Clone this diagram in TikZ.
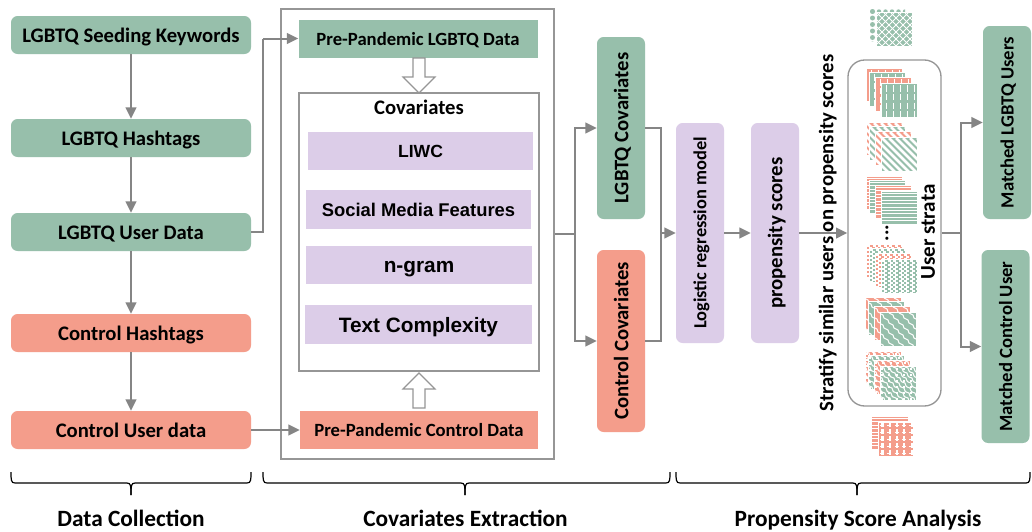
\documentclass[tikz,border=0pt]{standalone}
\usepackage{fontspec}
\setmainfont{Carlito}
\newfontfamily\arl{Liberation Sans}
\usetikzlibrary{arrows.meta}
\definecolor{grn}{HTML}{97BFAB}
\definecolor{sal}{HTML}{F49D8B}
\definecolor{lil}{HTML}{DCCDE8}
\definecolor{gl}{HTML}{858585}
\definecolor{frmc}{HTML}{969696}
\newcommand{\fsz}[1]{\fontsize{#1}{#1}\selectfont\bfseries}
\tikzset{x=0.75pt,y=-0.75pt,
 gbox/.style={rounded corners=5pt,fill=grn,inner sep=0pt,text depth=0pt,text height=10.6pt,font=\fsz{15.5}},
 sbox/.style={rounded corners=5pt,fill=sal,inner sep=0pt,text depth=0pt,text height=10.6pt,font=\fsz{15.5}},
 hw/.style={minimum width=240*.75pt,minimum height=38*.75pt},
 vw/.style={minimum width=48*.75pt,minimum height=182*.75pt},
 lbox/.style={fill=lil,inner sep=0pt,text depth=0pt},
 conn/.style={draw=gl,line width=1.5pt,-{Triangle[length=8.5pt,width=8pt]}},
 plain/.style={draw=gl,line width=1.5pt},
 frm/.style={draw=frmc,line width=1.1pt,fill=white,inner sep=0pt},
 brc/.style={draw=black,line width=0.9pt},
 lab/.style={font=\fsz{17.5},inner sep=0pt,text depth=0pt},
 vt/.style={rotate=90,inner sep=0pt,text depth=0pt},
 hol/.style={draw=frmc,fill=white,line width=0.9pt,line join=miter}
}
\newcommand{\patlat}{\foreach \i in {-42,-35,...,42}{\draw[white,line width=.55pt] (\i,0)--++(45,45);\draw[white,line width=.55pt] (\i,45)--++(45,-45);}}
\newcommand{\patvd}{\foreach \i in {4,11,...,39}{\draw[white,line width=.7pt,dash pattern=on 5pt off 1.6pt] (\i,1)--(\i,40);}}
\newcommand{\patdiag}{\foreach \i in {-42,-35,...,42}{\draw[white,line width=1.9pt] (\i,0)--++(45,45);}}
\newcommand{\pathor}{\foreach \i in {1.5,4.9,...,40}{\draw[white,line width=.75pt] (0,\i)--(40,\i);}}
\newcommand{\patbrick}{\foreach \i in {1,5,...,37}{\draw[white,line width=.9pt,dash pattern=on 2.2pt off 2pt] (0,\i)--(40,\i);\draw[white,line width=.9pt,dash pattern=on 2.2pt off 2pt] (2,\i+2)--(40,\i+2);}}
\newcommand{\patwave}{\foreach \i in {-42,-32,...,42}{\draw[white,line width=.75pt] (\i,0) foreach \k in {1,...,9}{ -- ++(4,2) -- ++(1,3)};}}
\newcommand{\patscale}{\foreach \i in {-42,-36,...,42}{\draw[white,line width=.8pt] (\i,0) foreach \k in {1,...,9}{ -- ++(3,1) -- ++(1,3) -- ++(1,1)};}\foreach \i in {2,8,...,38}{\draw[white,line width=.8pt,dash pattern=on 1.5pt off 4pt] (0,\i)--(40,\i);}}
\newcommand{\patchk}{\foreach \i in {3.5,10.8,...,38}{\draw[white,line width=1.6pt,dash pattern=on 3.6pt off 1.6pt] (\i,-1)--(\i,40);}\foreach \i in {2.5,9.5,...,38}{\draw[white,line width=1.4pt,dash pattern=on 3pt off 2.5pt] (1,\i)--(40,\i);}}
\newcommand{\patdots}{\foreach \i in {2.5,9,...,40}{\fill[grn] (2.5,\i) circle (2.5);\fill[grn] (\i,2.5) circle (2.2);}}
\newcommand{\tile}[6]{\begin{scope}[shift={(#1,#2)}]
 \fill[white] (-1,-1) rectangle (#3+1,#4+1);
 \begin{scope}\clip (0,0) rectangle (#3,#4);\fill[#5] (0,0) rectangle (#3,#4);\csname pat#6\endcsname\end{scope}
 \end{scope}}
\newcommand{\stk}[3]{%
 \tile{#1}{#2}{35}{32}{sal}{#3}%
 \tile{#1+3}{#2+4}{35}{33}{grn}{#3}%
 \tile{#1+9}{#2+9}{35}{33}{sal}{#3}%
 \tile{#1+15}{#2+15}{35}{33}{grn}{#3}}
\begin{document}
\begin{tikzpicture}
\useasboundingbox (0,0) rectangle (1032,532);
\fill[white] (0,0) rectangle (1032,532);
% column 1
\node[gbox,hw] (k) at (131,35) {LGBTQ Seeding Keywords};
\node[gbox,hw] (h) at (131,138) {LGBTQ Hashtags};
\node[gbox,hw] (u) at (131,232) {LGBTQ User Data};
\node[sbox,hw] (ch) at (131,333) {Control Hashtags};
\node[sbox,hw] (cu) at (131,430) {Control User data};
\draw[conn] (k) -- (h);
\draw[conn] (h) -- (u);
\draw[conn] (u) -- (ch);
\draw[conn] (ch) -- (cu);
% column 2
\node[frm,minimum width=273*.75pt,minimum height=450*.75pt] (outer) at (417.5,234) {};
\node[fill=grn,inner sep=0pt,text depth=0pt,minimum width=239*.75pt,minimum height=38*.75pt,font=\fsz{14}] (pl) at (418,38.5) {Pre-Pandemic LGBTQ Data};
\node[fill=sal,inner sep=0pt,text depth=0pt,minimum width=238*.75pt,minimum height=38*.75pt,font=\fsz{14}] (pc) at (419,430) {Pre-Pandemic Control Data};
\node[frm,minimum width=240*.75pt,minimum height=278*.75pt] (cov) at (419,232) {};
\node[font=\fsz{15.5},inner sep=0pt,text depth=0pt] (covt) at (419,107) {Covariates};
\node[lbox,minimum width=225*.75pt,minimum height=38*.75pt,font=\arl\fsz{13.2}] (l1) at (420.5,151) {LIWC};
\node[lbox,minimum width=225*.75pt,minimum height=38.5*.75pt,font=\arl\fsz{13.8}] (l2) at (418.5,209.5) {Social Media Features};
\node[lbox,minimum width=226*.75pt,minimum height=38*.75pt,text height=10.5pt,font=\arl\fsz{15.6}] (l3) at (419,265) {n-gram};
\node[lbox,minimum width=227*.75pt,minimum height=39*.75pt,font=\arl\fsz{15.6}] (l4) at (418.5,324.5) {Text Complexity};
\draw[hol] (413,58) -- (425,58) -- (425,77) -- (435,77) -- (419,93) -- (403,77) -- (413,77) -- cycle;
\draw[hol] (413,408) -- (425,408) -- (425,389) -- (435,389) -- (419,373) -- (403,389) -- (413,389) -- cycle;
\coordinate (ue) at (263,232);
\coordinate (ut) at (263,38.5);
\draw[plain] (u.east) -- (ue) -- (ut);
\draw[conn] (ut) -- (pl.west);
\draw[conn] (cu.east) -- (pc.west);
% column 3
\node[gbox,vw] (lc) at (621,128) {};
\node[font=\fsz{15.5},vt] at (lc) {LGBTQ Covariates};
\node[sbox,vw] (cc) at (621,341) {};
\node[font=\fsz{15.5},vt] at (cc) {Control Covariates};
\coordinate (j1) at (575,234);
\coordinate (j1t) at (575,128);
\coordinate (j1b) at (575,341);
\draw[plain] (outer.east) -- (j1);
\draw[conn] (j1) -- (j1t) -- (lc.west);
\draw[conn] (j1) -- (j1b) -- (cc.west);
% logistic
\node[lbox,rounded corners=5pt,minimum width=48*.75pt,minimum height=220*.75pt] (lr) at (700,233) {};
\node[font=\fsz{13.8},vt] at (lr) {Logistic regression model};
\node[lbox,rounded corners=5pt,minimum width=48*.75pt,minimum height=220*.75pt] (ps) at (775,233) {};
\node[font=\fsz{15.6},vt] at (ps) {propensity scores};
\coordinate (j2) at (661,233);
\coordinate (j2t) at (661,128);
\coordinate (j2b) at (661,341);
\draw[plain] (lc.east) -- (j2t) -- (j2b) -- (cc.east);
\draw[conn] (j2) -- (lr.west);
\draw[conn] (lr.east) -- (ps.west);
% strata
\node[draw=frmc,line width=1pt,rounded corners=12.5pt,minimum width=93*.75pt,minimum height=346*.75pt,inner sep=0pt,fill=white] (st) at (894.5,233) {};
\draw[conn] (ps.east) -- (st.west);
\node[font=\fsz{15.5},vt] at (826,233) {Stratify similar users on propensity scores};
\node[font=\fsz{15.8},vt] (ust) at (928,232) {User strata};
% stacks
\tile{870}{9}{35}{32}{white}{dots}
\tile{877}{13}{35}{33}{grn}{lat}
\stk{867}{69}{vd}
\stk{867}{123}{diag}
\stk{867}{177}{hor}
\node[font=\fsz{15.5},vt] at (887,233) {...};
\stk{867}{245}{brick}
\stk{866}{298}{wave}
\stk{866}{352}{scale}
\tile{872}{417}{36}{32}{sal}{hor}
\tile{879}{423}{34}{33}{sal}{chk}
% matched
\node[gbox,minimum width=48*.75pt,minimum height=193*.75pt] (ml) at (1007,122.5) {};
\node[font=\fsz{14},vt] at (ml) {Matched LGBTQ Users};
\node[gbox,minimum width=48*.75pt,minimum height=193*.75pt] (mc) at (1005.5,346.5) {};
\node[font=\fsz{14},vt] at (mc) {Matched Control User};
\coordinate (j3) at (961,233);
\coordinate (j3t) at (961,122.5);
\coordinate (j3b) at (961,346.5);
\draw[plain] (st.east) -- (j3);
\draw[conn] (j3) -- (j3t) -- (ml.west);
\draw[conn] (j3) -- (j3b) -- (mc.west);
% braces
\draw[brc] (11,472) .. controls (11,480) and (11,483) .. (15,483) -- (127,483) .. controls (131,483) and (131,486) .. (131,495);
\draw[brc] (131,495) .. controls (131,486) and (131,483) .. (135,483) -- (247,483) .. controls (251,483) and (251,480) .. (251,472);
\draw[brc] (263,472) .. controls (263,480) and (263,483) .. (267,483) -- (461,483) .. controls (465,483) and (465,486) .. (465,495);
\draw[brc] (465,495) .. controls (465,486) and (465,483) .. (469,483) -- (666,483) .. controls (670,483) and (670,480) .. (670,472);
\draw[brc] (676,472) .. controls (676,480) and (676,483) .. (680,483) -- (853,483) .. controls (857,483) and (857,486) .. (857,495);
\draw[brc] (857,495) .. controls (857,486) and (857,483) .. (861,483) -- (1026,483) .. controls (1030,483) and (1030,480) .. (1030,472);
\node[lab] (t1) at (131,518) {Data Collection};
\node[lab] (t2) at (465.5,518) {Covariates Extraction};
\node[lab] (t3) at (858,518) {Propensity Score Analysis};
\end{tikzpicture}
\end{document}
